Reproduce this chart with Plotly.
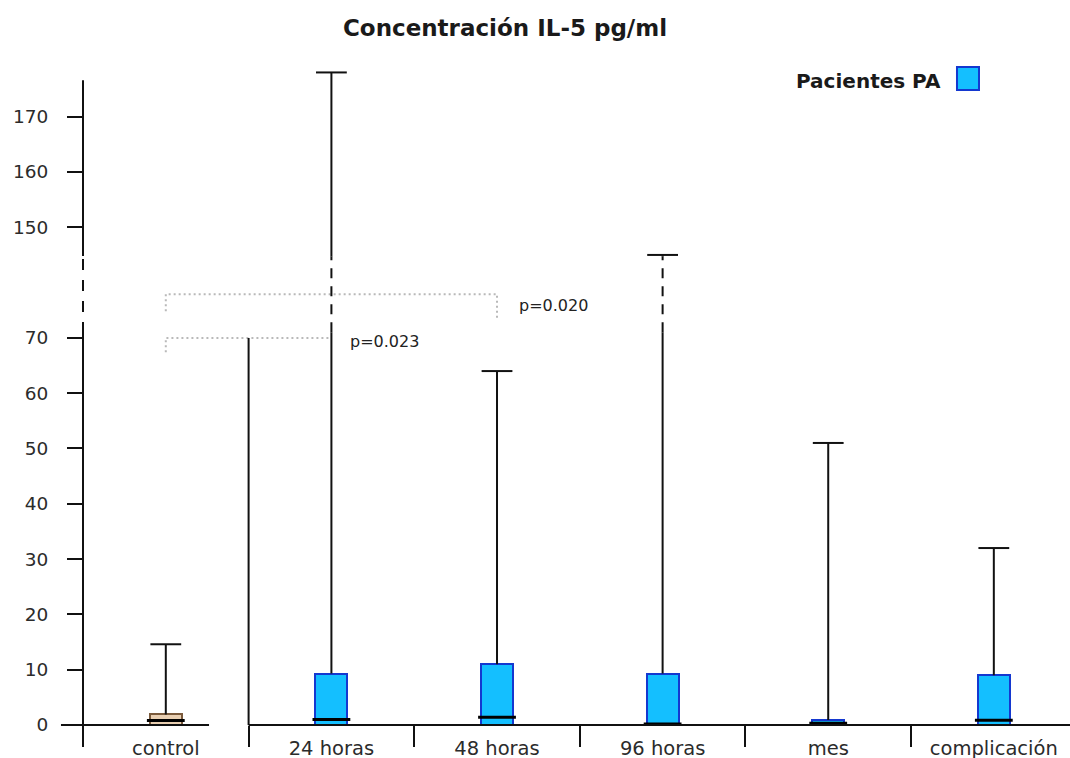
import plotly.graph_objects as go

# IL-5 concentration (pg/ml) summary per group
categories = ["control", "24 horas", "48 horas", "96 horas", "mes", "complicación"]
q1_vals = [0.0, 0.0, 0.0, 0.0, 0.0, 0.0]
median_vals = [0.8, 1.0, 1.4, 0.2, 0.3, 0.85]
q3_vals = [1.9, 9.3, 11.0, 9.3, 0.9, 9.0]
max_vals = [14.6, 178.0, 64.0, 145.0, 51.0, 32.0]

y_tick_values = [0, 10, 20, 30, 40, 50, 60, 70, 150, 160, 170]

p_pairs = [("control", "24 horas"), ("control", "48 horas")]
p_labels = ["p=0.023", "p=0.020"]

# broken value axis: values above the break are shifted down
BREAK_LOW = 71.0          # last value drawn unshifted
BREAK_SHIFT = 60.0        # amount removed from values above the break
BREAK_HI_D = 84.7         # display level where the upper segment resumes
AXIS_TOP_D = 116.6


def to_display(v):
    return v if v <= BREAK_LOW else v - BREAK_SHIFT


FONT = "DejaVu Sans"
TEXT = "#2b2b2b"
BOX_FILL = ["#e9cfb2"] + ["#14bfff"] * 5
BOX_LINE = ["#7a5a3c"] + ["#1438d0"] * 5

XR = [-0.5, 5.46]
YR = [0, 120.25]


def xpaper(u):
    return (u - XR[0]) / (XR[1] - XR[0])


q1_d = [to_display(v) for v in q1_vals]
q3_d = [to_display(v) for v in q3_vals]
med_d = [to_display(v) for v in median_vals]
max_d = [to_display(v) for v in max_vals]

fig = go.Figure()

# significance brackets
bracket_levels = [(67.4, 70.0, None), (74.8, 77.9, 73.6)]
for (a, b), (lo_left, level, lo_right) in zip(p_pairs, bracket_levels):
    xs = [a, a, b]
    ys = [lo_left, level, level]
    if lo_right is not None:
        xs.append(b)
        ys.append(lo_right)
    fig.add_trace(go.Scatter(
        x=xs, y=ys, mode="lines", hoverinfo="skip", showlegend=False,
        line=dict(color="#b9b9b9", width=2, dash="2px,3px"),
    ))

# boxes (q1..q3)
fig.add_trace(go.Bar(
    x=categories,
    base=q1_d,
    y=[t - b for t, b in zip(q3_d, q1_d)],
    width=0.193,
    marker=dict(color=BOX_FILL, line=dict(color=BOX_LINE, width=2)),
    showlegend=False,
))

# whiskers: solid parts and dashed parts across the axis break
sx, sy, dx, dy = [], [], [], []
for cat, top, hi in zip(categories, q3_d, max_d):
    if hi > BREAK_HI_D:
        sx += [cat, cat, None, cat, cat, None]
        sy += [top, BREAK_LOW, None, BREAK_HI_D, hi, None]
        dx += [cat, cat, None]
        dy += [BREAK_LOW, BREAK_HI_D, None]
    else:
        sx += [cat, cat, None]
        sy += [top, hi, None]
fig.add_trace(go.Scatter(x=sx, y=sy, mode="lines", showlegend=False,
                         line=dict(color="#111", width=2)))
fig.add_trace(go.Scatter(x=dx, y=dy, mode="lines", showlegend=False,
                         line=dict(color="#111", width=2, dash="10px,8px")))

# whisker caps
fig.add_trace(go.Scatter(
    x=categories, y=max_d, mode="markers", showlegend=False,
    marker=dict(symbol="line-ew", size=22, line=dict(color="#111", width=2)),
))

# medians
fig.add_trace(go.Scatter(
    x=categories, y=med_d, mode="markers", showlegend=False,
    marker=dict(symbol="line-ew", size=27, line=dict(color="#000", width=3)),
))

shapes = []
# value axis line with dashed break
for y0, y1, dash in [(0, BREAK_LOW - 0.1, "solid"), (BREAK_LOW - 0.1, BREAK_HI_D + 0.1, "11px,10px"),
                     (BREAK_HI_D + 0.1, AXIS_TOP_D, "solid")]:
    shapes.append(dict(type="line", xref="paper", yref="y", x0=0, x1=0, y0=y0, y1=y1,
                       line=dict(color="#111", width=2, dash=dash)))
# category axis lines: control panel and patient panel
shapes.append(dict(type="line", xref="paper", yref="paper", x0=xpaper(-0.633), x1=xpaper(0.261),
                   y0=0, y1=0, line=dict(color="#111", width=2)))
shapes.append(dict(type="line", xref="paper", yref="paper", x0=xpaper(0.5), x1=1,
                   y0=0, y1=0, line=dict(color="#111", width=2)))
# left edge of the patient panel
shapes.append(dict(type="line", xref="x", yref="y", x0=0.5, x1=0.5, y0=0, y1=70,
                   line=dict(color="#111", width=2)))
# legend swatch
shapes.append(dict(type="rect", xref="paper", yref="paper",
                   x0=0.8855, x1=0.9078, y0=0.9549, y1=0.9895,
                   fillcolor="#14bfff", line=dict(color="#1438d0", width=2)))

annotations = [
    dict(text="<b>Pacientes PA</b>", xref="paper", yref="paper", x=0.871, y=0.9684,
         xanchor="right", yanchor="middle", showarrow=False,
         font=dict(family=FONT, size=20, color="#1a1a1a")),
    dict(text=p_labels[0], xref="x", yref="y", x=1.10, y=69.3, xanchor="left",
         yanchor="middle", showarrow=False, font=dict(family=FONT, size=16, color="#222")),
    dict(text=p_labels[1], xref="x", yref="y", x=2.12, y=75.9, xanchor="left",
         yanchor="middle", showarrow=False, font=dict(family=FONT, size=16, color="#222")),
]

fig.update_layout(
    width=1070, height=758,
    margin=dict(l=83, r=0, t=60, b=33),
    paper_bgcolor="white", plot_bgcolor="white",
    title=dict(text="<b>Concentración IL-5 pg/ml</b>", x=0.472, y=0.963,
               xanchor="center", yanchor="middle",
               font=dict(family=FONT, size=23, color="#1a1a1a")),
    shapes=shapes, annotations=annotations,
    showlegend=False, bargap=0,
)
fig.update_xaxes(
    type="category", categoryorder="array", categoryarray=categories, range=XR,
    tickson="boundaries", ticks="outside", ticklen=21, tickwidth=2, tickcolor="#111",
    showline=False, showgrid=False, zeroline=False, ticklabelstandoff=9,
    automargin=False,
    tickfont=dict(family=FONT, size=19.5, color=TEXT),
)
fig.update_yaxes(
    range=YR, tickvals=[to_display(v) for v in y_tick_values],
    ticktext=[str(v) for v in y_tick_values],
    ticks="outside", ticklen=15, tickwidth=2, tickcolor="#111",
    showline=False, showgrid=False, zeroline=False, ticklabelstandoff=15,
    automargin=False,
    tickfont=dict(family=FONT, size=18.5, color=TEXT),
)

fig.write_html("out.html")
